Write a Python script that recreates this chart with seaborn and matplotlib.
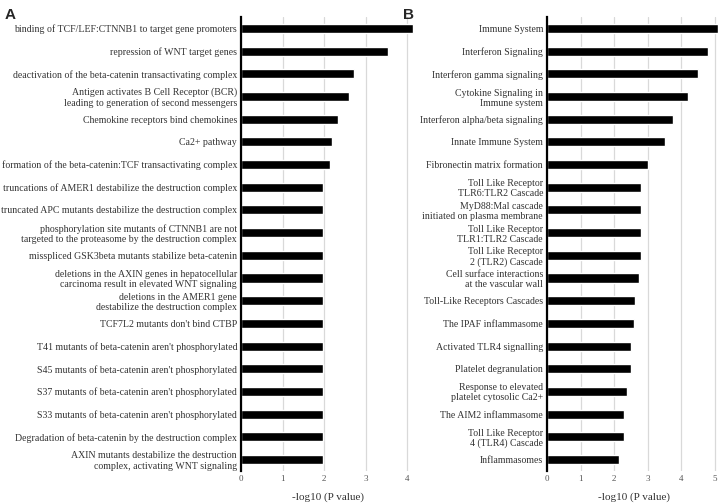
import pandas as pd
import seaborn as sns
import matplotlib.pyplot as plt

left_terms = [
    "binding of TCF/LEF:CTNNB1 to target gene promoters",
    "repression of WNT target genes",
    "deactivation of the beta-catenin transactivating complex",
    "Antigen activates B Cell Receptor (BCR)\nleading to generation of second messengers",
    "Chemokine receptors bind chemokines",
    "Ca2+ pathway",
    "formation of the beta-catenin:TCF transactivating complex",
    "truncations of AMER1 destabilize the destruction complex",
    "truncated APC mutants destabilize the destruction complex",
    "phosphorylation site mutants of CTNNB1 are not\ntargeted to the proteasome by the destruction complex",
    "misspliced GSK3beta mutants stabilize beta-catenin",
    "deletions in the AXIN genes in hepatocellular\ncarcinoma result in elevated WNT signaling",
    "deletions in the AMER1 gene\ndestabilize the destruction complex",
    "TCF7L2 mutants don't bind CTBP",
    "T41 mutants of beta-catenin aren't phosphorylated",
    "S45 mutants of beta-catenin aren't phosphorylated",
    "S37 mutants of beta-catenin aren't phosphorylated",
    "S33 mutants of beta-catenin aren't phosphorylated",
    "Degradation of beta-catenin by the destruction complex",
    "AXIN mutants destabilize the destruction\ncomplex, activating WNT signaling",
]
left_values = [4.15, 3.55, 2.72, 2.6, 2.33, 2.2, 2.13, 1.98, 1.98, 1.98,
               1.98, 1.98, 1.98, 1.98, 1.98, 1.98, 1.98, 1.98, 1.98, 1.98]

right_terms = [
    "Immune System",
    "Interferon Signaling",
    "Interferon gamma signaling",
    "Cytokine Signaling in\nImmune system",
    "Interferon alpha/beta signaling",
    "Innate Immune System",
    "Fibronectin matrix formation",
    "Toll Like Receptor\nTLR6:TLR2 Cascade",
    "MyD88:Mal cascade\ninitiated on plasma membrane",
    "Toll Like Receptor\nTLR1:TLR2 Cascade",
    "Toll Like Receptor\n2 (TLR2) Cascade",
    "Cell surface interactions\nat the vascular wall",
    "Toll-Like Receptors Cascades",
    "The IPAF inflammasome",
    "Activated TLR4 signalling",
    "Platelet degranulation",
    "Response to elevated\nplatelet cytosolic Ca2+",
    "The AIM2 inflammasome",
    "Toll Like Receptor\n4 (TLR4) Cascade",
    "Inflammasomes",
]
right_values = [5.1, 4.8, 4.5, 4.2, 3.76, 3.5, 3.0, 2.8, 2.8, 2.8,
                2.8, 2.74, 2.63, 2.6, 2.5, 2.5, 2.38, 2.3, 2.3, 2.13]

left_ticks = [0, 1, 2, 3, 4]
right_ticks = [0, 1, 2, 3, 4, 5]
xlabel = "-log10 (P value)"

sns.set_style("white")
plt.rcParams["font.family"] = ["Liberation Serif", "DejaVu Serif"]

fig = plt.figure(figsize=(7.2, 5.03), dpi=100)
ax_a = fig.add_axes([0.335, 0.064, 0.242, 0.902])
ax_b = fig.add_axes([0.760, 0.064, 0.240, 0.902])


def draw_panel(ax, terms, values, ticks, xmax):
    df = pd.DataFrame({"term": terms, "value": values})
    sns.barplot(data=df, x="value", y="term", orient="h", color="black",
                width=0.4, ax=ax, saturation=1)
    ax.set_xlim(0, xmax)
    ax.set_ylim(len(terms) - 0.5, -0.5)
    ax.set_xticks(ticks)
    ax.set_xticklabels([str(t) for t in ticks], fontsize=6.5, color="#555555")
    ax.tick_params(axis="both", length=0, pad=3)
    for lab in ax.get_yticklabels():
        lab.set_fontsize(7.15)
        lab.set_color("#333333")
        lab.set_linespacing(1.15)
    ax.grid(axis="x", color="#d9d9d9", linewidth=0.9)
    ax.set_axisbelow(True)
    for side in ["top", "right", "bottom"]:
        ax.spines[side].set_visible(False)
    ax.spines["left"].set_color("black")
    ax.spines["left"].set_linewidth(1.6)
    ax.set_ylabel("")
    ax.set_xlabel(xlabel, fontsize=8, color="#333333", labelpad=7)


draw_panel(ax_a, left_terms, left_values, left_ticks, 4.2)
draw_panel(ax_b, right_terms, right_values, right_ticks, 5.15)

fig.text(0.007, 0.985, "A", fontsize=11, fontweight="bold",
         family="Liberation Sans", va="top")
fig.text(0.56, 0.985, "B", fontsize=11, fontweight="bold",
         family="Liberation Sans", va="top")

fig.savefig("out.png", dpi=100)
